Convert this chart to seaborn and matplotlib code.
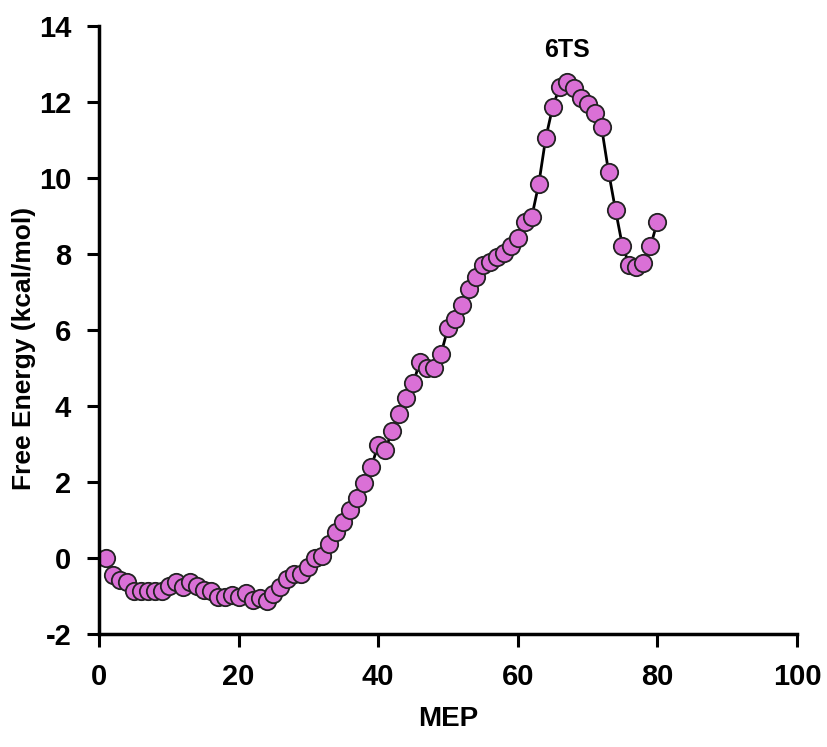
import numpy as np
import pandas as pd
import matplotlib
matplotlib.use("Agg")
import matplotlib.pyplot as plt
import seaborn as sns

# MEP path points and free energies (kcal/mol)
mep = list(range(1, 81))
energy = [0.00, -0.45, -0.58, -0.63, -0.87, -0.87, -0.87, -0.87, -0.87, -0.74,
          -0.62, -0.76, -0.63, -0.75, -0.84, -0.86, -1.03, -1.03, -0.97, -1.02,
          -0.93, -1.10, -1.05, -1.12, -0.95, -0.77, -0.56, -0.43, -0.43, -0.24,
          0.00, 0.05, 0.36, 0.69, 0.96, 1.26, 1.58, 1.97, 2.40, 2.97,
          2.84, 3.34, 3.79, 4.21, 4.60, 5.17, 5.00, 5.00, 5.37, 6.06,
          6.29, 6.66, 7.08, 7.40, 7.71, 7.80, 7.92, 8.02, 8.20, 8.42,
          8.85, 8.98, 9.84, 11.05, 11.87, 12.40, 12.53, 12.37, 12.10, 11.95,
          11.71, 11.34, 10.17, 9.16, 8.21, 7.71, 7.66, 7.76, 8.20, 8.85]
ts_label = "6TS"
ts_pos = (67, 13.05)

df = pd.DataFrame({"MEP": mep, "Energy": energy})

sns.set_style("ticks")
plt.rcParams["font.family"] = ["Liberation Sans", "DejaVu Sans"]
plt.rcParams["axes.unicode_minus"] = False
plt.rcParams["text.color"] = "black"
plt.rcParams["axes.labelcolor"] = "black"

fig = plt.figure(figsize=(8.27, 7.47), dpi=100)
ax = fig.add_axes([0.1197, 0.1513, 0.844, 0.8137])

sns.lineplot(data=df, x="MEP", y="Energy", ax=ax, color="black", linewidth=2,
             marker="o", markersize=12.5, markerfacecolor="#DA70D6",
             markeredgecolor="#222222", markeredgewidth=1.3)

ax.set_xlim(0, 100)
ax.set_ylim(-2, 14)
ax.set_xticks(range(0, 101, 20))
ax.set_yticks(range(-2, 15, 2))
ax.set_xlabel("MEP", fontsize=20, fontweight="bold")
ax.set_ylabel("Free Energy (kcal/mol)", fontsize=19, fontweight="bold")
ax.xaxis.set_label_coords(0.5, -0.118)
ax.yaxis.set_label_coords(-0.09, 0.47)

for lab in ax.get_xticklabels() + ax.get_yticklabels():
    lab.set_fontweight("bold")
ax.tick_params(axis="both", direction="out", length=9, width=2.2,
               labelsize=21, colors="black")
ax.tick_params(axis="x", pad=12)
ax.tick_params(axis="y", pad=11)

sns.despine(ax=ax)
for side in ["left", "bottom"]:
    ax.spines[side].set_linewidth(2.5)
    ax.spines[side].set_color("black")

ax.text(ts_pos[0], ts_pos[1], ts_label, fontsize=18, fontweight="bold",
        ha="center", va="bottom")

fig.savefig("out.png", dpi=100)
